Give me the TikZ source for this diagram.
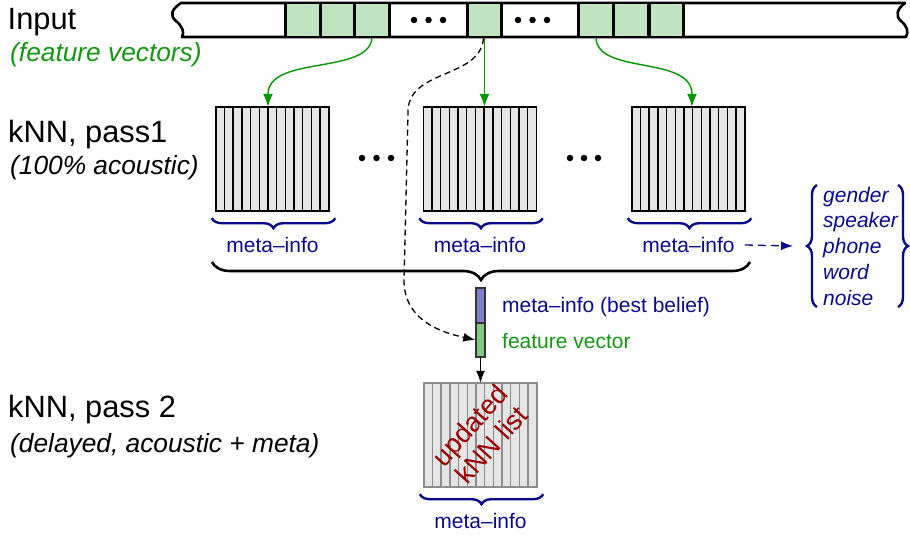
\documentclass[tikz,border=0pt]{standalone}
\usepackage{fontspec}
\setmainfont{Liberation Sans}
\usetikzlibrary{decorations.pathreplacing,arrows.meta,calc}
\definecolor{navy}{RGB}{10,10,140}
\definecolor{labelgreen}{RGB}{20,150,20}
\definecolor{arrowgreen}{RGB}{0,150,0}
\definecolor{cellgreen}{RGB}{192,228,192}
\definecolor{barpurple}{RGB}{128,128,200}
\definecolor{bargreen}{RGB}{128,200,128}
\definecolor{darkred}{RGB}{153,0,0}
\tikzset{
  tapeline/.style={line width=2.6pt, line join=round},
  cellbox/.style={draw, line width=2.6pt, fill=cellgreen, minimum width=34.5pt, minimum height=34pt, inner sep=0pt},
  blockbox/.style={minimum width=113pt, minimum height=104pt, inner sep=0pt},
  colbox/.style={draw=black, line width=1.4pt, fill=black!10},
  colboxgray/.style={draw=black!45, line width=1.4pt, fill=black!10},
  garrow/.style={draw=arrowgreen, line width=1.4pt, -{Latex[length=13pt,width=10pt]}},
  metalabel/.style={text=navy, font=\fontsize{21}{25}\selectfont, inner sep=0pt},
  leftbig/.style={font=\fontsize{30.8}{36}\selectfont, anchor=base west, inner sep=0pt},
  leftsmall/.style={font=\fontsize{26.3}{30}\selectfont\itshape, anchor=base west, inner sep=0pt},
  listitem/.style={text=navy, font=\fontsize{21}{25}\selectfont\itshape, anchor=base west, inner sep=0pt},
  smallbrace/.style={draw=navy, line width=2.4pt, decorate, decoration={brace, mirror, amplitude=10pt}},
  listbrace/.style={draw=navy, line width=2.4pt, decorate, decoration={brace, amplitude=10pt}},
  bigbrace/.style={draw=black, line width=2.6pt, decorate, decoration={brace, mirror, amplitude=18pt}},
  dotnode/.style={circle, fill=black, inner sep=0pt, minimum size=6.5pt},
  barbox/.style={draw=black!80, line width=1.4pt, minimum width=9pt, inner sep=0pt},
  blackarrow/.style={draw=black, line width=1.3pt, -{Latex[length=12pt,width=9pt]}},
}
\begin{document}
\begin{tikzpicture}[x=1pt,y=-1pt]
\useasboundingbox (0,0) rectangle (910,538);

% tape
\draw[tapeline, fill=white] (182,37) -- (906,37)
  .. controls (909,32) and (907,26) .. (901,21)
  .. controls (895,16) and (897,9) .. (905,3) -- (181,3)
  .. controls (172,9) and (169,15) .. (176,21)
  .. controls (182,26) and (185,32) .. (182,37) -- cycle;
\node[cellbox] (c1) at (303,20) {};
\node[cellbox] (c2) at (337.5,20) {};
\node[cellbox] (c3) at (372,20) {};
\node[cellbox] (c4) at (484.5,20) {};
\node[cellbox] (c5) at (596,20) {};
\node[cellbox] (c6) at (631,20) {};
\node[cellbox] (c7) at (666.5,20) {};
\foreach \x [count=\k] in {414,428.5,443,518,532.5,547}
  \node[dotnode] (td\k) at (\x,20) {};

% left labels
\node[leftbig] (lin) at (7.5,29) {Input};
\node[leftsmall, text=labelgreen] (lfv) at (10,61) {(feature vectors)};
\node[leftbig] (lp1) at (8,142) {kNN, pass1};
\node[leftsmall] (lac) at (10,174) {(100\% acoustic)};
\node[leftbig] (lp2) at (8,417) {kNN, pass 2};
\node[leftsmall] (ldl) at (10,452) {(delayed, acoustic + meta)};

% blocks
\node[blockbox] (b1) at (272.5,159) {};
\node[blockbox] (b2) at (480,159) {};
\node[blockbox] (b3) at (688.5,159) {};
\node[blockbox] (lb) at (480.5,435) {};
\foreach \bk in {b1,b2,b3}
  \foreach \i in {0,...,12}
    \draw[colbox] ($(\bk.north west)+(\i*113/13,0)$) rectangle ++(113/13,104);
\foreach \i in {0,...,12}
  \draw[colboxgray] ($(lb.north west)+(\i*113/13,0)$) rectangle ++(113/13,104);

\foreach \x [count=\k] in {362,376.5,391,570,584,598}
  \node[dotnode] (bd\k) at (\x,158) {};

% green arrows
\draw[garrow] (c3.south) .. controls (368,75) and (268,55) .. ($(b1.north)+(-4.5,0)$);
\draw[garrow] (c4.south) -- (c4.south |- b2.north);
\draw[garrow] (c5.south) .. controls (598,75) and (692,55) .. ($(b3.north)+(3.5,0)$);

% small braces and meta-info labels
\foreach \bk in {b1,b2,b3,lb}
  \draw[smallbrace] ($(\bk.south west)+(-4,7)$) -- ($(\bk.south east)+(6,7)$);
\node[metalabel] (m1) at (272.5,245) {meta--info};
\node[metalabel] (m2) at (480,245) {meta--info};
\node[metalabel] (m3) at (688.5,245) {meta--info};
\node[metalabel] (m4) at (480.5,521) {meta--info};

% big brace
\coordinate (bbl) at (212,262);
\coordinate (bbr) at (750,262);
\draw[bigbrace] (bbl) -- (bbr);

% bar
\node[barbox, fill=barpurple, minimum height=35pt] (pb) at (480.5,305.5) {};
\node[barbox, fill=bargreen, minimum height=34pt] (gb) at (480.5,340) {};
\node[metalabel, anchor=west] (mbb) at (502,307) {meta--info (best belief)};
\node[metalabel, text=labelgreen, anchor=west] (fvl) at (502,341) {feature vector};

% dashed feedback
\draw[blackarrow, dash pattern=on 6pt off 4pt] ($(c4.south)+(-1,0)$) .. controls (480,80) and (405,68) .. (408,115)
  -- (404,280) .. controls (404,320) and (440,332) .. (gb.west);

\draw[blackarrow] (gb.south) -- (lb.north);

\node[rotate=48, text=darkred, align=center, font=\fontsize{27}{29}\selectfont, inner sep=0pt] (upd) at (lb.center) {updated\\kNN list};

% list
\node[listitem] (g1) at (823,202) {gender};
\node[listitem] (g2) at (823,227.5) {speaker};
\node[listitem] (g3) at (823,253.5) {phone};
\node[listitem] (g4) at (823,279.5) {word};
\node[listitem] (g5) at (823,305) {noise};
\coordinate (lbb) at (817,307);
\coordinate (lbt) at (817,185);
\coordinate (rbt) at (898,185);
\coordinate (rbb) at (898,307);
\draw[listbrace] (lbb) -- (lbt);
\draw[listbrace] (rbt) -- (rbb);
\coordinate (lbtip) at (793,246);
\draw[draw=navy, line width=1.3pt, dash pattern=on 8pt off 5pt, -{Latex[length=12pt,width=9pt]}] ($(m3.east)+(10,0)$) -- (lbtip);
\end{tikzpicture}
\end{document}
